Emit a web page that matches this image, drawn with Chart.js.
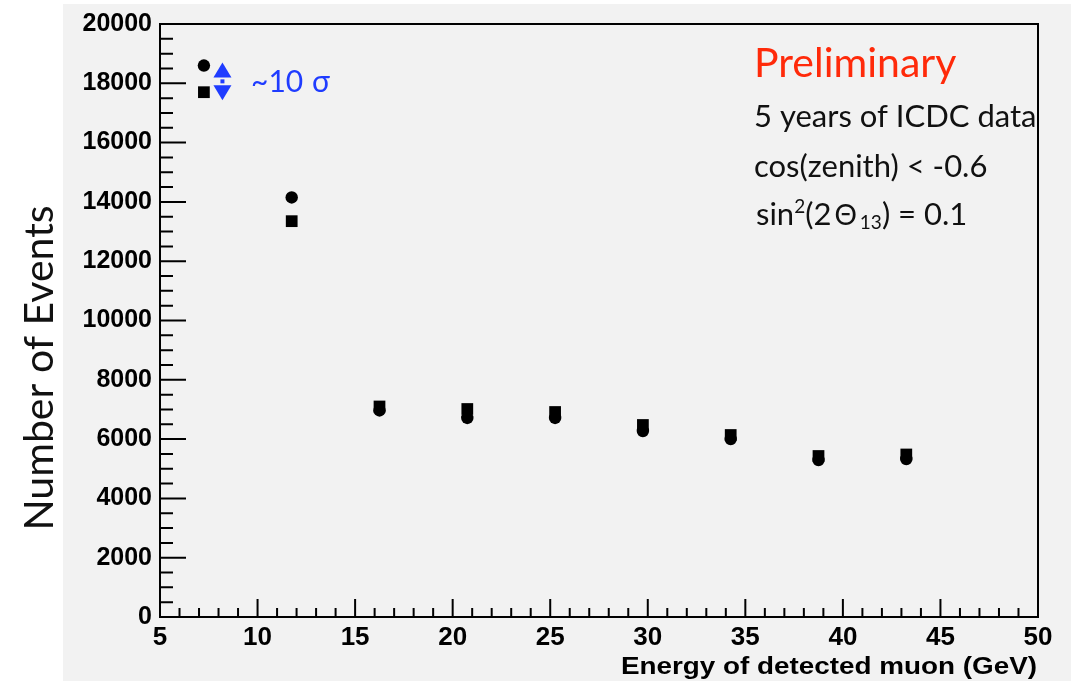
<!DOCTYPE html>
<html>
<head>
<meta charset="utf-8">
<script src="https://cdn.jsdelivr.net/npm/chart.js@4.4.1/dist/chart.umd.min.js"></script>
<style>
  body { margin: 0; background: #fff; }
  canvas { display: block; }
</style>
</head>
<body>
<canvas id="chart" width="1071" height="681"></canvas>
<script>
// bin centers (GeV)
const energy = [7.25, 11.75, 16.25, 20.75, 25.25, 29.75, 34.25, 38.75, 43.25];
// circles (upper set) and squares
const eventsCircle = [18600, 14150, 6965, 6712, 6712, 6273, 6003, 5295, 5329];
const eventsSquare = [17700, 13350, 7100, 7015, 6914, 6476, 6138, 5430, 5481];

const xTicks = [5, 10, 15, 20, 25, 30, 35, 40, 45, 50];
const yTicks = [0, 2000, 4000, 6000, 8000, 10000, 12000, 14000, 16000, 18000, 20000];

const tickFont = '"Liberation Sans", Arial, sans-serif';
const textFont = 'Lato, "DejaVu Sans", sans-serif';

// ROOT style frame, inward ticks, titles and the text boxes
const rootStyle = {
    id: 'rootStyle',
    beforeDraw(chart) {
        const ctx = chart.ctx;
        ctx.save();
        ctx.fillStyle = '#fff';
        ctx.fillRect(0, 0, chart.width, chart.height);
        ctx.fillStyle = '#f2f2f2';
        ctx.fillRect(63, 4, chart.width - 63, chart.height - 4);
        ctx.restore();
    },
    beforeDatasetsDraw(chart) {
        const ctx = chart.ctx;
        const a = chart.chartArea;
        const xs = chart.scales.x, ys = chart.scales.y;
        ctx.save();
        ctx.strokeStyle = '#000';
        ctx.lineWidth = 2;
        ctx.strokeRect(a.left, a.top, a.right - a.left, a.bottom - a.top);
        ctx.beginPath();
        // y ticks: major every 2000, minor every 500
        for (let v = 0; v <= 20000; v += 500) {
            const y = ys.getPixelForValue(v);
            const len = v % 2000 === 0 ? 26 : 13;
            ctx.moveTo(a.left, y);
            ctx.lineTo(a.left + len, y);
        }
        // x ticks: major every 5, minor every 1
        for (let v = 5; v <= 50; v += 1) {
            const x = xs.getPixelForValue(v);
            const len = v % 5 === 0 ? 18 : 9;
            ctx.moveTo(x, a.bottom);
            ctx.lineTo(x, a.bottom - len);
        }
        ctx.stroke();
        ctx.restore();
    },
    afterDraw(chart) {
        const ctx = chart.ctx;
        const xs = chart.scales.x, ys = chart.scales.y;
        ctx.save();

        // axis titles (ROOT output was stretched horizontally)
        ctx.save();
        ctx.fillStyle = '#000';
        ctx.font = 'bold 24px ' + tickFont;
        ctx.textAlign = 'right';
        ctx.translate(1037, 674);
        ctx.scale(1.16, 1);
        ctx.fillText('Energy of detected muon (GeV)', 0, 0);
        ctx.restore();

        ctx.save();
        ctx.translate(53, 368);
        ctx.rotate(-Math.PI / 2);
        ctx.textAlign = 'center';
        ctx.font = '41px ' + textFont;
        ctx.fillStyle = '#111';
        ctx.fillText('Number of Events', 0, 0);
        ctx.restore();

        // double arrow between the first circle and square
        const ax = xs.getPixelForValue(8.2);
        const top = ys.getPixelForValue(eventsCircle[0]) - 3;
        const bot = ys.getPixelForValue(eventsSquare[0]) + 8;
        ctx.fillStyle = '#1f3cff';
        ctx.beginPath();
        ctx.moveTo(ax, top);
        ctx.lineTo(ax - 9, top + 15);
        ctx.lineTo(ax + 9, top + 15);
        ctx.closePath();
        ctx.fill();
        ctx.beginPath();
        ctx.moveTo(ax, bot);
        ctx.lineTo(ax - 9, bot - 15);
        ctx.lineTo(ax + 9, bot - 15);
        ctx.closePath();
        ctx.fill();
        ctx.fillRect(ax - 2, (top + bot) / 2 - 2, 4, 4);

        ctx.textAlign = 'left';
        ctx.font = '30px ' + textFont;
        ctx.fillText('~10', 251, 92);
        ctx.fillText('σ', 312, 92);

        // text box on the right
        ctx.fillStyle = '#ff2a0a';
        ctx.font = '41px ' + textFont;
        ctx.fillText('Preliminary', 754, 77);

        ctx.fillStyle = '#111';
        ctx.font = '31px ' + textFont;
        ctx.fillText('5 years of ICDC data', 754, 127);
        ctx.fillText('cos(zenith) < -0.6', 754, 177);

        let x = 756;
        const base = 225;
        const piece = (txt, size, dy) => {
            ctx.font = size + 'px ' + textFont;
            ctx.fillText(txt, x, base + dy);
            x += ctx.measureText(txt).width;
        };
        piece('sin', 31, 0);
        piece('2', 19, -12);
        piece('(2', 31, 0);
        x += 3;
        piece('Θ', 28, 0);
        x += 3;
        piece('13', 19, 4);
        piece(') = 0.1', 31, 0);

        ctx.restore();
    }
};

new Chart(document.getElementById('chart'), {
    type: 'scatter',
    data: {
        datasets: [
            {
                label: 'circles',
                data: energy.map((e, i) => ({ x: e, y: eventsCircle[i] })),
                pointStyle: 'circle',
                pointRadius: 6.2,
                backgroundColor: '#000',
                borderColor: '#000',
                borderWidth: 0
            },
            {
                label: 'squares',
                data: energy.map((e, i) => ({ x: e, y: eventsSquare[i] })),
                pointStyle: 'rect',
                pointRadius: 8.3,
                backgroundColor: '#000',
                borderColor: '#000',
                borderWidth: 0
            }
        ]
    },
    options: {
        responsive: false,
        animation: false,
        layout: { padding: { top: 24, right: 33, left: 0, bottom: 0 } },
        plugins: {
            legend: { display: false },
            tooltip: { enabled: false },
            title: { display: false }
        },
        scales: {
            x: {
                type: 'linear',
                min: 5,
                max: 50,
                afterBuildTicks: s => { s.ticks = xTicks.map(v => ({ value: v })); },
                afterFit: s => { s.height = 64; },
                grid: { display: false, drawTicks: false },
                border: { display: false },
                ticks: {
                    autoSkip: false,
                    maxRotation: 0,
                    padding: 5,
                    color: '#000',
                    font: { family: tickFont, size: 26, weight: 'bold' }
                }
            },
            y: {
                type: 'linear',
                min: 0,
                max: 20000,
                afterBuildTicks: s => { s.ticks = yTicks.map(v => ({ value: v })); },
                afterFit: s => { s.width = 160; },
                grid: { display: false, drawTicks: false },
                border: { display: false },
                ticks: {
                    autoSkip: false,
                    padding: 8,
                    color: '#000',
                    font: { family: tickFont, size: 25, weight: 'bold' },
                    callback: v => String(v)
                }
            }
        }
    },
    plugins: [rootStyle]
});
</script>
</body>
</html>
